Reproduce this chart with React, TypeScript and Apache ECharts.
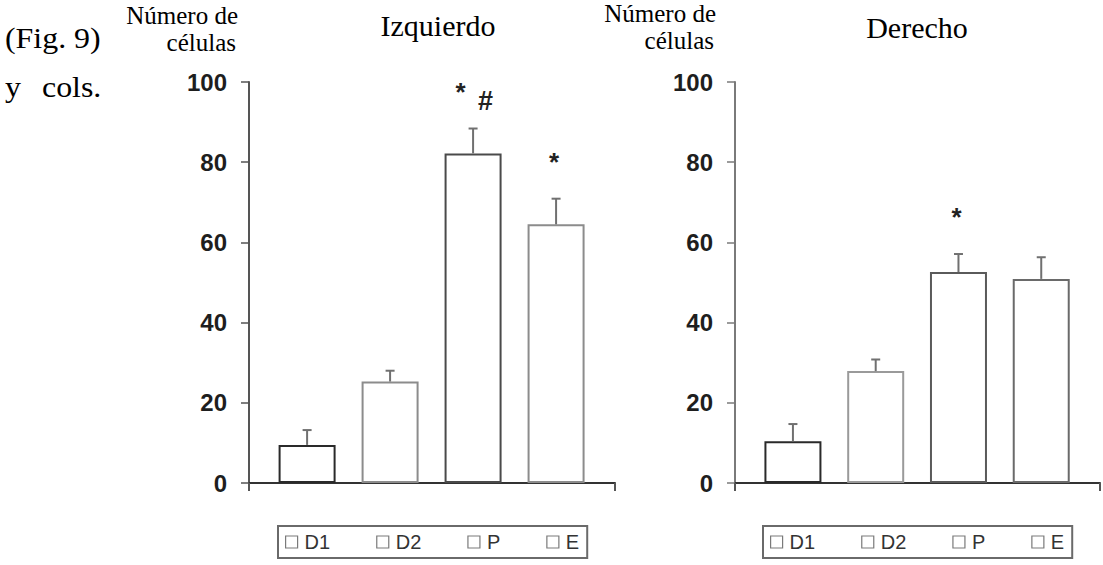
import React, { useEffect, useRef } from "react";
import * as echarts from "echarts";

const categories = ["D1", "D2", "P", "E"];
const leftMeans = [9.5, 25.3, 82.2, 64.5];
const leftErrors = [3.7, 2.7, 6.2, 6.4];
const rightMeans = [10.4, 27.9, 52.6, 50.9];
const rightErrors = [4.3, 2.9, 4.5, 5.4];
const leftStars = ["", "", "*", "*"];
const leftHashes = ["", "", "#", ""];
const rightStars = ["", "", "*", ""];
const rightHashes = ["", "", "", ""];
const yMax = 100;
const yInterval = 20;
const panelTitles = ["Izquierdo", "Derecho"];
const yAxisName = ["Número de", "células"];

const leftBorders = ["#2a2a2a", "#8c8c8c", "#4a4a4a", "#8c8c8c"];
const rightBorders = ["#2a2a2a", "#9a9a9a", "#5a5a5a", "#6a6a6a"];

const SANS = "'Liberation Sans', Arial, sans-serif";
const SERIF = "'Liberation Serif', 'Times New Roman', serif";

export default function App() {
  const ref = useRef<HTMLDivElement>(null);
  useEffect(() => {
    if (!ref.current) return;
    const chart = echarts.init(ref.current, undefined, { renderer: "svg" });
    const panels = [
      { means: leftMeans, errors: leftErrors, stars: leftStars, hashes: leftHashes, borders: leftBorders, axisColor: "#555555" },
      { means: rightMeans, errors: rightErrors, stars: rightStars, hashes: rightHashes, borders: rightBorders, axisColor: "#7a7a7a" },
    ];
    const xMin = -0.7;
    const xMax = 3.71;
    const series: any[] = [];
    panels.forEach((p, c) => {
      categories.forEach((cat, i) => {
        series.push({
          type: "bar",
          name: cat,
          xAxisIndex: c,
          yAxisIndex: c,
          barWidth: 57,
          barGap: "-100%",
          data: [[i, p.means[i]]],
          itemStyle: { color: "#ffffff", borderColor: p.borders[i], borderWidth: 2 },
          z: 2,
        });
      });
      series.push({
        type: "custom",
        name: "err" + c,
        xAxisIndex: c,
        yAxisIndex: c,
        clip: false,
        z: 3,
        data: categories.map((_, i) => [i, p.means[i], p.errors[i]]),
        encode: { x: 0, y: 1 },
        renderItem: (params: any, api: any) => {
          const i = api.value(0);
          const v = api.value(1);
          const e = api.value(2);
          const base = api.coord([i, v]);
          const top = api.coord([i, v + e]);
          const st = { stroke: "#707070", lineWidth: 2 };
          return {
            type: "group",
            children: [
              { type: "line", shape: { x1: base[0], y1: base[1], x2: top[0], y2: top[1] }, style: st },
              { type: "line", shape: { x1: top[0] - 4.5, y1: top[1], x2: top[0] + 4.5, y2: top[1] }, style: st },
            ],
          };
        },
      });
      series.push({
        type: "custom",
        name: "ann" + c,
        xAxisIndex: c,
        yAxisIndex: c,
        clip: false,
        z: 4,
        data: categories.map((_, i) => [i, p.means[i] + p.errors[i]]),
        encode: { x: 0, y: 1 },
        renderItem: (params: any, api: any) => {
          const idx = params.dataIndex;
          const pt = api.coord([api.value(0), api.value(1)]);
          const star = p.stars[idx];
          const hash = p.hashes[idx];
          const children: any[] = [];
          if (star) {
            children.push({
              type: "text",
              x: pt[0] + (hash ? -12.5 : -2),
              y: pt[1] - 37,
              style: { text: star, fontSize: 26, fontWeight: "bold", fontFamily: SANS, fill: "#222", align: "center", verticalAlign: "middle" },
            });
          }
          if (hash) {
            children.push({
              type: "text",
              x: pt[0] + 12.5,
              y: pt[1] - 28,
              style: { text: hash, fontSize: 27, fontWeight: "bold", fontFamily: SANS, fill: "#222", align: "center", verticalAlign: "middle" },
            });
          }
          return { type: "group", children };
        },
      });
    });

    const grids = [
      { left: 249, top: 82, width: 366, height: 401 },
      { left: 735, top: 82, width: 365, height: 401 },
    ];

    const xAxes = grids.map((_, c) => ({
      type: "value",
      gridIndex: c,
      min: xMin,
      max: xMax,
      axisLine: { show: true, onZero: false, lineStyle: { color: "#333", width: 2 } },
      axisTick: { show: true, length: 8, customValues: [xMin, xMax], lineStyle: { color: "#555", width: 2 } },
      axisLabel: { show: false },
      splitLine: { show: false },
    }));

    const yAxes = grids.map((_, c) => ({
      type: "value",
      gridIndex: c,
      min: 0,
      max: yMax,
      interval: yInterval,
      axisLine: { show: true, onZero: false, lineStyle: { color: panels[c].axisColor, width: 2 } },
      axisTick: { show: true, length: 8, lineStyle: { color: panels[c].axisColor, width: 1.5 } },
      axisLabel: { margin: 22, fontSize: 24, fontWeight: "bold", fontFamily: SANS, color: "#1e1e1e" },
      splitLine: { show: false },
    }));

    const legendCommon = {
      data: categories,
      orient: "horizontal",
      top: 526,
      itemWidth: 12,
      itemHeight: 12,
      itemGap: 46,
      icon: "rect",
      selectedMode: false,
      padding: [6, 8, 6, 7],
      borderColor: "#6a6a6a",
      borderWidth: 2,
      itemStyle: { color: "#ffffff", borderColor: "#7a7a7a", borderWidth: 1.2 },
      textStyle: { fontSize: 20, fontFamily: SANS, color: "#333", padding: [0, 0, 0, 2] },
    };

    const serifText = (text: string, x: number, y: number, size: number, align: string, scaleX = 1) => ({
      type: "text",
      x,
      y,
      scaleX,
      style: { text, fontSize: size, fontFamily: SERIF, fill: "#000", align, verticalAlign: "middle" },
    });

    chart.setOption({
      animation: false,
      backgroundColor: "#ffffff",
      grid: grids,
      xAxis: xAxes,
      yAxis: yAxes,
      legend: [
        { ...legendCommon, left: 278 },
        { ...legendCommon, left: 763 },
      ],
      graphic: [
        serifText("(Fig. 9)", 5, 38, 29, "left", 1.1),
        serifText("y", 5, 87, 29, "left", 1.1),
        serifText("cols.", 42, 87, 29, "left", 1.1),
        serifText(yAxisName[0], 238, 15, 25, "right"),
        serifText(yAxisName[1], 236, 42, 25, "right"),
        serifText(yAxisName[0], 716, 13, 25, "right"),
        serifText(yAxisName[1], 714, 40, 25, "right"),
        serifText(panelTitles[0], 438, 25, 30, "center"),
        serifText(panelTitles[1], 917, 27, 30, "center"),
      ],
      series,
    });
    return () => chart.dispose();
  }, []);
  return <div ref={ref} style={{ position: "absolute", left: 0, top: 0, width: 1103, height: 565 }} />;
}
